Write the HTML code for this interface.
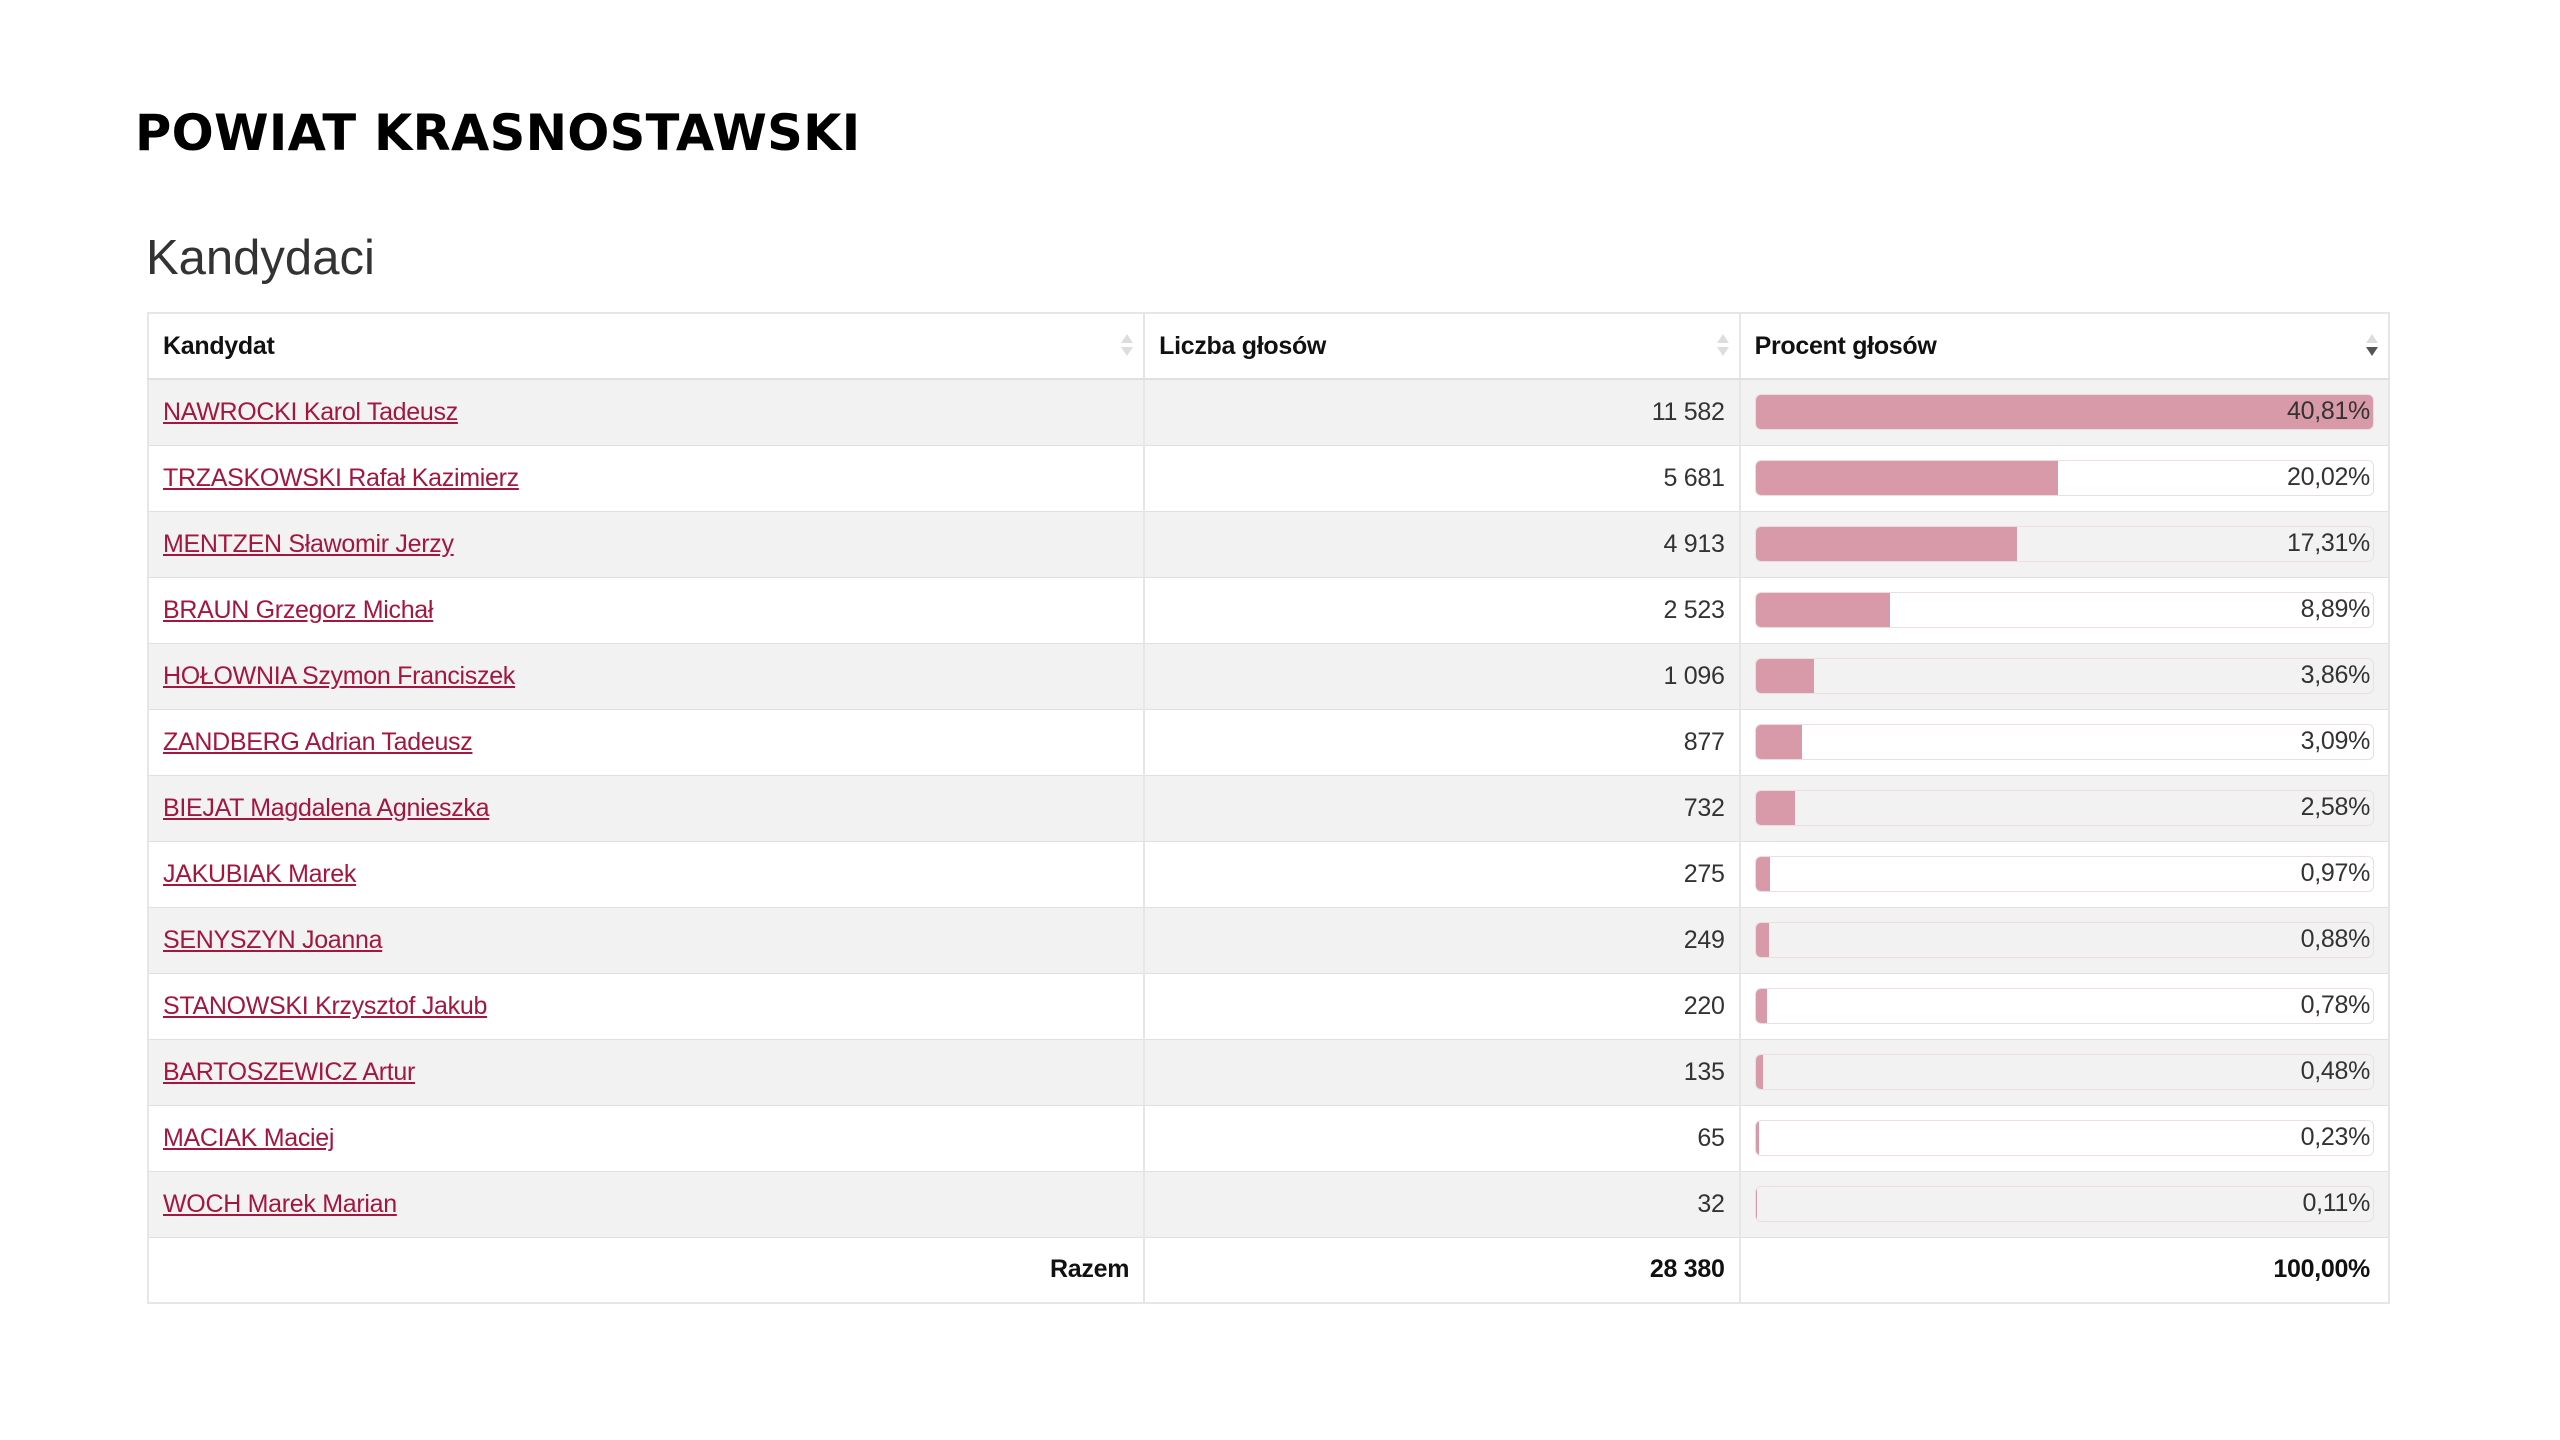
<!DOCTYPE html>
<html><head><meta charset="utf-8"><style>
body{margin:0;width:2560px;height:1440px;background:#fff;position:relative;font-family:"Liberation Sans",sans-serif;overflow:hidden}
h1{position:absolute;left:135px;top:104px;margin:0;font-family:"DejaVu Sans",sans-serif;font-weight:bold;font-size:49.5px;color:#000;letter-spacing:0.3px}
h2{position:absolute;left:146px;top:230px;margin:0;font-weight:normal;font-size:49px;color:#333}
table{position:absolute;left:147px;top:312px;width:2243px;border-collapse:collapse;border:2px solid #e6e6e6;font-size:25px;color:#333;letter-spacing:-0.3px}
td,th{height:66px;padding:0 14px;border-left:2px solid #e6e6e6;border-top:1px solid #e0e0e0;box-sizing:border-box}
th{height:66px;text-align:left;font-weight:bold;color:#111;position:relative;border-bottom:2px solid #e0e0e0}
th .s{position:absolute;right:16px;top:20px;width:0;height:0}
th .s:before{content:"";position:absolute;left:-6px;top:0;border:6px solid transparent;border-bottom:9px solid #ddd;border-top:0}
th .s:after{content:"";position:absolute;left:-6px;top:13px;border:6px solid transparent;border-top:9px solid #ddd;border-bottom:0}
th .s.d:after{border-top-color:#555}
tr:nth-child(even) td{background:#f2f2f2}
td.n{text-align:right}
a{color:#a3173f;text-decoration:underline}
.bar{position:relative;height:34px;border:1px solid #ecdde1;border-radius:6px;overflow:hidden}
.f{position:absolute;left:0;top:0;bottom:0;background:#d899a8}
.bar span{position:absolute;right:3px;top:2px}
.tot td{font-weight:bold;color:#111;background:#fff}
</style></head><body>
<h1>POWIAT KRASNOSTAWSKI</h1>
<h2>Kandydaci</h2>
<table>
<colgroup><col style="width:997px"><col style="width:596px"><col style="width:650px"></colgroup>
<tr><th>Kandydat<span class="s"></span></th><th>Liczba głosów<span class="s"></span></th><th>Procent głosów<span class="s d"></span></th></tr>
<tr><td><a>NAWROCKI Karol Tadeusz</a></td><td class="n">11 582</td><td><div class="bar"><div class="f" style="width:100%"></div><span>40,81%</span></div></td></tr>
<tr><td><a>TRZASKOWSKI Rafał Kazimierz</a></td><td class="n">5 681</td><td><div class="bar"><div class="f" style="width:49.06%"></div><span>20,02%</span></div></td></tr>
<tr><td><a>MENTZEN Sławomir Jerzy</a></td><td class="n">4 913</td><td><div class="bar"><div class="f" style="width:42.42%"></div><span>17,31%</span></div></td></tr>
<tr><td><a>BRAUN Grzegorz Michał</a></td><td class="n">2 523</td><td><div class="bar"><div class="f" style="width:21.78%"></div><span>8,89%</span></div></td></tr>
<tr><td><a>HOŁOWNIA Szymon Franciszek</a></td><td class="n">1 096</td><td><div class="bar"><div class="f" style="width:9.46%"></div><span>3,86%</span></div></td></tr>
<tr><td><a>ZANDBERG Adrian Tadeusz</a></td><td class="n">877</td><td><div class="bar"><div class="f" style="width:7.57%"></div><span>3,09%</span></div></td></tr>
<tr><td><a>BIEJAT Magdalena Agnieszka</a></td><td class="n">732</td><td><div class="bar"><div class="f" style="width:6.32%"></div><span>2,58%</span></div></td></tr>
<tr><td><a>JAKUBIAK Marek</a></td><td class="n">275</td><td><div class="bar"><div class="f" style="width:2.38%"></div><span>0,97%</span></div></td></tr>
<tr><td><a>SENYSZYN Joanna</a></td><td class="n">249</td><td><div class="bar"><div class="f" style="width:2.16%"></div><span>0,88%</span></div></td></tr>
<tr><td><a>STANOWSKI Krzysztof Jakub</a></td><td class="n">220</td><td><div class="bar"><div class="f" style="width:1.91%"></div><span>0,78%</span></div></td></tr>
<tr><td><a>BARTOSZEWICZ Artur</a></td><td class="n">135</td><td><div class="bar"><div class="f" style="width:1.18%"></div><span>0,48%</span></div></td></tr>
<tr><td><a>MACIAK Maciej</a></td><td class="n">65</td><td><div class="bar"><div class="f" style="width:0.56%"></div><span>0,23%</span></div></td></tr>
<tr><td><a>WOCH Marek Marian</a></td><td class="n">32</td><td><div class="bar"><div class="f" style="width:0.27%"></div><span>0,11%</span></div></td></tr>
<tr class="tot"><td class="n">Razem</td><td class="n">28 380</td><td class="n" style="padding-right:18px">100,00%</td></tr>
</table>
</body></html>
